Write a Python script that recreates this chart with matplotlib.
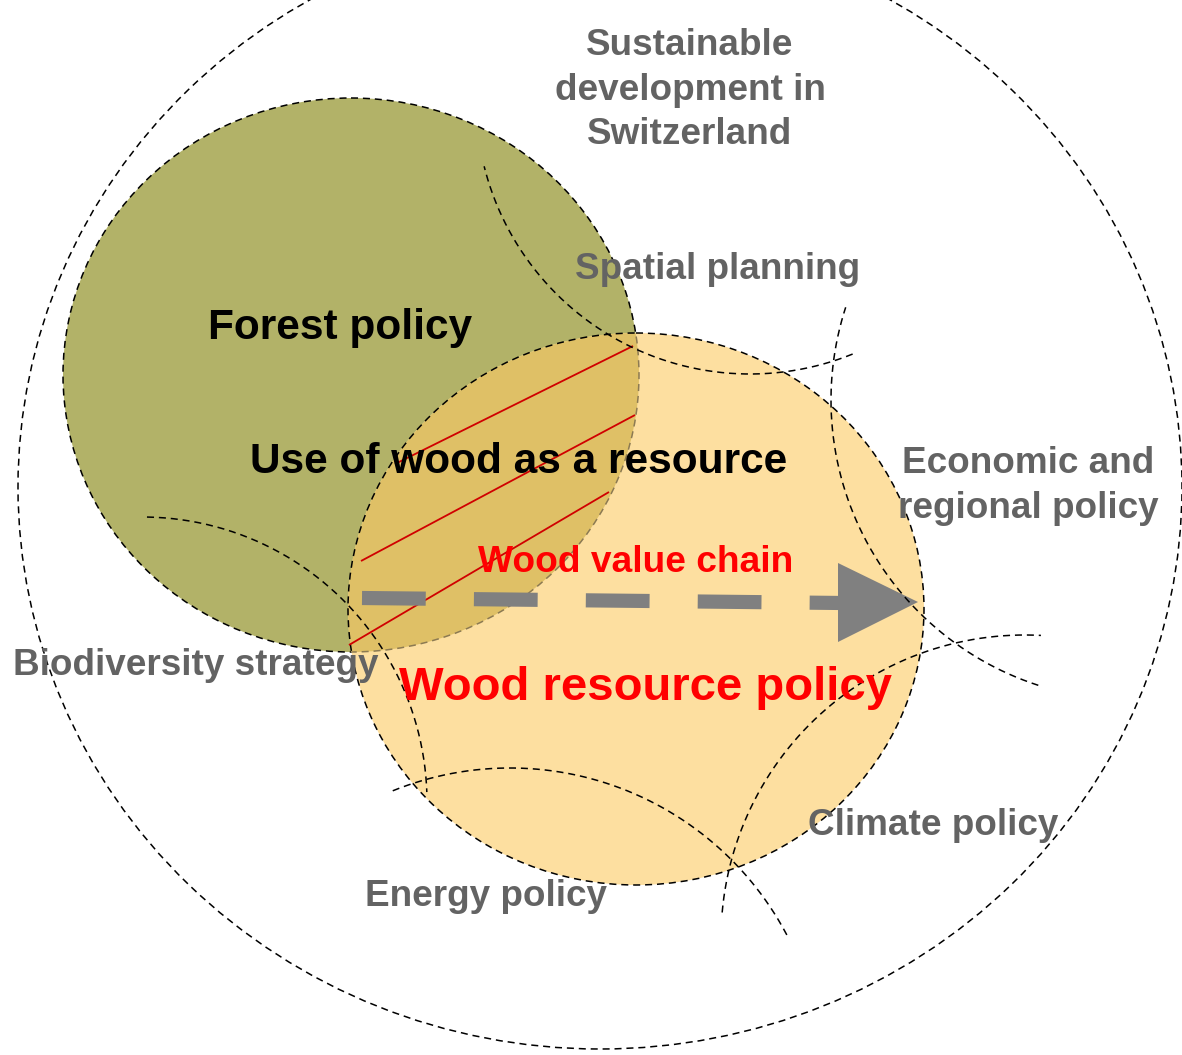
import numpy as np
import matplotlib
matplotlib.use("Agg")
import matplotlib.pyplot as plt
from matplotlib.patches import Ellipse, Polygon

plt.rcParams['font.family'] = ['Liberation Sans', 'DejaVu Sans']

# ---- text content ----
outer_label = ["Sustainable", "development in", "Switzerland"]
policy_labels = ["Spatial planning", "Economic and", "regional policy", "Climate policy",
                 "Energy policy", "Biodiversity strategy"]
forest_label = "Forest policy"
overlap_label = "Use of wood as a resource"
chain_label = "Wood value chain"
wood_label = "Wood resource policy"

# ---- layout (pixel space, y down) ----
W, H = 1182, 1055
fig = plt.figure(figsize=(W / 100, H / 100), dpi=100)
ax = fig.add_axes([0, 0, 1, 1])
ax.set_xlim(0, W)
ax.set_ylim(H, 0)
ax.axis('off')

GRAY = '#636363'
LS = (0, (4.6, 3.2))
LW = 1.1
dash = dict(color='black', lw=LW, ls=LS)

# outer ellipse
ax.add_patch(Ellipse((600, 487), 2 * 582, 2 * 562, fill=False, ec='black', lw=LW,
                     ls=LS, zorder=1))

# forest policy circle and wood resource policy circle
forest_c, forest_r = (351, 375), (288, 277)
wood_c, wood_r = (636, 609), (288, 276)
ax.add_patch(Ellipse(forest_c, 2 * forest_r[0], 2 * forest_r[1], fc='#B2B268', ec='black',
                     lw=LW, ls=LS, zorder=2))
wood_fill = Ellipse(wood_c, 2 * wood_r[0], 2 * wood_r[1], fc='#FDDFA0', ec='none', zorder=3)
ax.add_patch(wood_fill)
lens = Ellipse(forest_c, 2 * forest_r[0], 2 * forest_r[1], fc='#DFC066', ec='none', zorder=4)
ax.add_patch(lens)
lens.set_clip_path(wood_fill)
fedge = Ellipse(forest_c, 2 * forest_r[0], 2 * forest_r[1], fill=False, ec='#8C7A52',
                lw=LW, ls=LS, zorder=5)
ax.add_patch(fedge)
fedge.set_clip_path(wood_fill)
ax.add_patch(Ellipse(wood_c, 2 * wood_r[0], 2 * wood_r[1], fill=False, ec='black',
                     lw=LW, ls=LS, zorder=6))

# red hatch lines in overlap
hatch = [((395, 464), (633, 346)), ((361, 561), (635, 415)), ((349, 645), (609, 492))]
for (x0, y0), (x1, y1) in hatch:
    ax.plot([x0, x1], [y0, y1], color='#D00000', lw=1.3, zorder=7, solid_capstyle='butt')

# arrow (wood value chain)
ax.plot([362, 842], [598, 603], color='#808080', lw=10.2, ls=(0, (4.5, 3.4)),
        solid_capstyle='butt', dash_capstyle='butt', zorder=8)
ax.add_patch(Polygon([(838, 563), (918, 602), (838, 642)], closed=True, fc='#808080',
                     ec='none', zorder=8))

# policy arcs (circle centre, radius, start/end angle in degrees, y down)
arcs = [((750, 100), 274, 68, 166),
        ((1131, 400), 300, 108, 198),
        ((1025, 939), 304, 185, 273),
        ((510, 1081), 313, 248, 333),
        ((142, 802), 285, 271, 358)]
for (cx, cy), r, t1, t2 in arcs:
    t = np.radians(np.linspace(t1, t2, 300))
    ax.plot(cx + r * np.cos(t), cy + r * np.sin(t), zorder=9, **dash)

# text
fs_gray = 26.6
for line, yb in zip(outer_label, [55, 100, 144]):
    ax.text(690, yb, line, ha='center', va='baseline', fontsize=fs_gray,
            fontweight='bold', color=GRAY, zorder=10)

label_pos = [(718, 279), (1028, 473), (1028, 518), (933, 835), (486, 906), (196, 675)]
for lab, (x, y) in zip(policy_labels, label_pos):
    ax.text(x, y, lab, ha='center', va='baseline', fontsize=fs_gray, fontweight='bold',
            color=GRAY, zorder=10)

ax.text(340, 339, forest_label, ha='center', va='baseline', fontsize=30.5,
        fontweight='bold', color='black', zorder=10)
ax.text(519, 473, overlap_label, ha='center', va='baseline', fontsize=30.5,
        fontweight='bold', color='black', zorder=10)
ax.text(636, 572, chain_label, ha='center', va='baseline', fontsize=26.7,
        fontweight='bold', color='#FF0000', zorder=10)
ax.text(645, 700, wood_label, ha='center', va='baseline', fontsize=34,
        fontweight='bold', color='#FF0000', zorder=10)

fig.savefig('out.png', dpi=100, facecolor='white')
